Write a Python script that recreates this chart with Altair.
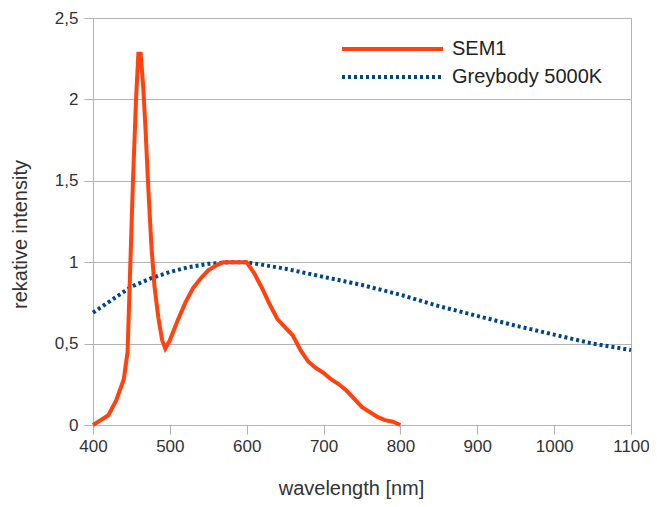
import altair as alt
import pandas as pd

# SEM1 spectrum
sem_nm = [400, 410, 420, 430, 440, 445, 448, 452, 456, 459, 462, 465, 468, 472, 476, 480,
          485, 490, 494, 500, 510, 520, 530, 540, 550, 560, 570, 580, 590, 600, 610, 620,
          630, 640, 650, 660, 670, 680, 690, 700, 710, 720, 730, 740, 750, 760, 770, 780,
          790, 800]
sem_val = [0.00, 0.03, 0.06, 0.15, 0.28, 0.45, 0.90, 1.50, 2.00, 2.28, 2.28, 2.10, 1.85, 1.45,
           1.10, 0.85, 0.66, 0.52, 0.47, 0.52, 0.64, 0.75, 0.84, 0.90, 0.95, 0.98, 1.00, 1.00,
           1.00, 1.00, 0.93, 0.84, 0.74, 0.65, 0.60, 0.55, 0.46, 0.39, 0.35, 0.32, 0.28, 0.25,
           0.21, 0.16, 0.11, 0.08, 0.05, 0.03, 0.02, 0.00]

# Greybody 5000K
gb_nm = [400, 425, 450, 475, 500, 525, 550, 575, 600, 625, 650, 675, 700, 750, 800, 850,
         900, 950, 1000, 1050, 1100]
gb_val = [0.69, 0.77, 0.85, 0.90, 0.94, 0.97, 0.99, 1.00, 1.00, 0.98, 0.96, 0.935, 0.91,
          0.86, 0.80, 0.73, 0.67, 0.61, 0.555, 0.50, 0.46]

series = ["SEM1", "Greybody 5000K"]
colors = ["#ff420e", "#004586"]
dashes = [[1, 0], [3, 3]]

x_ticks = [400, 500, 600, 700, 800, 900, 1000, 1100]
y_ticks = [0, 0.5, 1, 1.5, 2, 2.5]

W, H = 538, 407
FONT = "Liberation Sans"
GRID = "#b3b3b3"
TXT = "#333333"

sem_df = pd.DataFrame({"nm": sem_nm, "val": sem_val})
gb_df = pd.DataFrame({"nm": gb_nm, "val": gb_val})

xenc = alt.X("nm:Q", scale=alt.Scale(domain=[400, 1100], nice=False),
             axis=alt.Axis(values=x_ticks, grid=False, title="wavelength [nm]", format="d",
                           labelOverlap=False, labelFlush=False,
                           titleX=258, titleY=63, titleBaseline="middle"))
yenc = alt.Y("val:Q", scale=alt.Scale(domain=[0, 2.5], nice=False),
             axis=alt.Axis(values=y_ticks, grid=True, title="rekative intensity", format="~g",
                           labelExpr="replace(datum.label, '.', ',')", labelPadding=6,
                           titleX=-73, titleY=216, titleBaseline="middle"))

grey = alt.Chart(gb_df).mark_line(color=colors[1], strokeWidth=4, strokeDash=dashes[1]).encode(
    x=xenc, y=yenc)
sem = alt.Chart(sem_df).mark_line(color=colors[0], strokeWidth=4).encode(x=xenc, y=yenc)

layers = [grey, sem]
for i, name in enumerate(series):
    ldf = pd.DataFrame({"label": [name]})
    ypix = 31 + 28 * i
    rule = alt.Chart(ldf).mark_rule(color=colors[i], strokeWidth=4, strokeDash=dashes[i]).encode(
        x=alt.value(249), x2=alt.value(350), y=alt.value(ypix))
    txt = alt.Chart(ldf).mark_text(align="left", baseline="middle", font=FONT, fontSize=20,
                                   color="#222222").encode(
        x=alt.value(359), y=alt.value(ypix), text="label:N")
    layers += [rule, txt]

chart = alt.layer(*layers).properties(
    width=W, height=H,
    autosize=alt.AutoSizeParams(type="none"),
    padding={"left": 85, "top": 10, "right": 18, "bottom": 74},
).configure_view(stroke=GRID, strokeWidth=1).configure_axis(
    labelFont=FONT, titleFont=FONT, labelFontSize=17, titleFontSize=20,
    labelColor=TXT, titleColor=TXT, titleFontWeight="normal",
    domainColor=GRID, tickColor=GRID, gridColor=GRID, tickSize=9, labelPadding=4,
)

chart.save("out.html", embed_options={"renderer": "svg", "actions": False})
